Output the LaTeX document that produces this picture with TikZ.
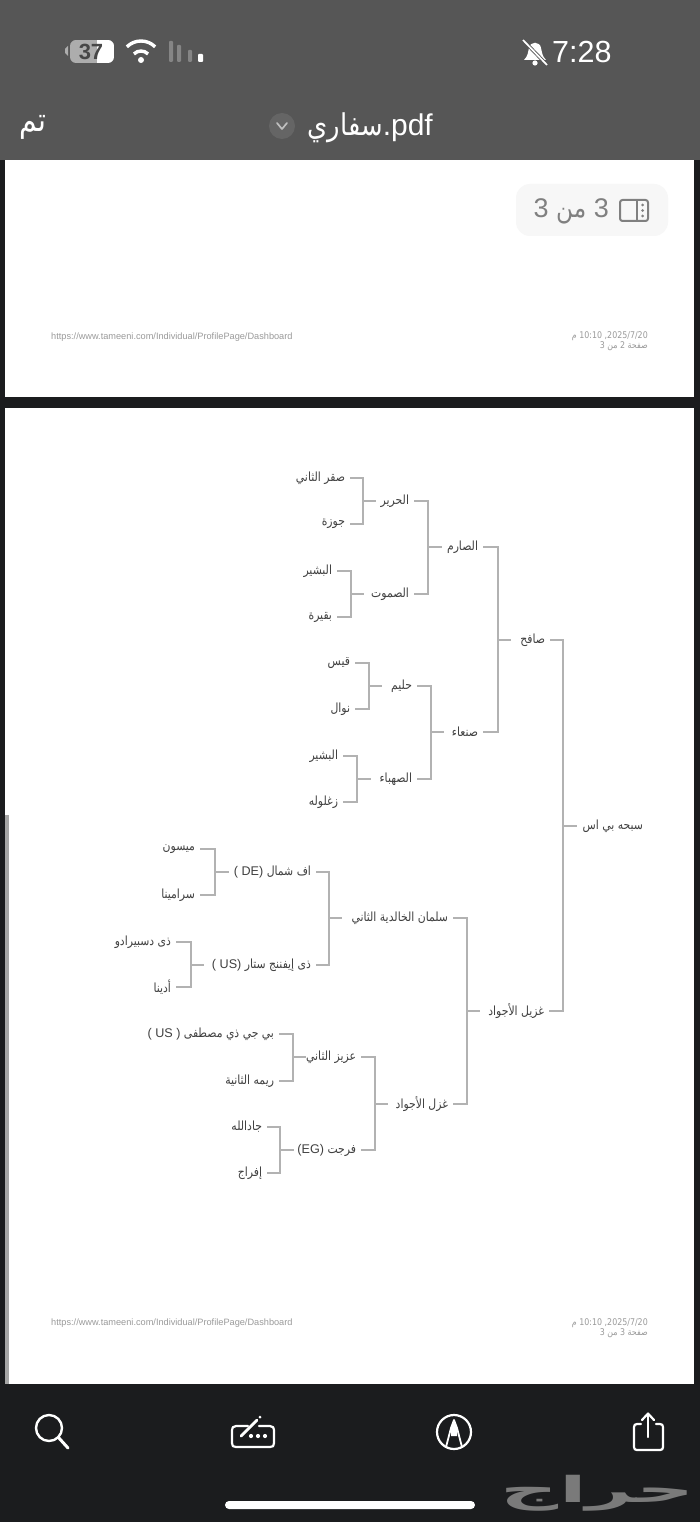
\documentclass[tikz,border=0pt]{standalone}
\usepackage{fontspec}
\usepackage{graphicx}
\setmainfont{Liberation Sans}
\newfontfamily\arabicfont[Script=Arabic,FakeStretch=0.86]{DejaVu Sans}
\TeXXeTstate=1
\definecolor{barcol}{HTML}{565656}
\definecolor{darkcol}{HTML}{1B1C1E}
\definecolor{linecol}{HTML}{B2B2B2}
\definecolor{txtcol}{HTML}{404040}
\definecolor{footcol}{HTML}{9A9A9A}
\newcommand{\ar}[1]{{\arabicfont\beginR #1\endR}}
\newcommand{\tn}[5]{\node[lbl,anchor=east] (#1) at (#2+5,#4) {\makebox[#3pt][r]{\raisebox{-1pt}{#5}}};}
\newcommand{\brk}[5]{%
  \coordinate (#1k) at (#2,#3);
  \draw[conn] (#4.east) -| (#1k) |- (#5.east);
  \draw[conn] (#1k) -- (#1.west);}
\tikzset{
  lbl/.style={inner ysep=0pt,inner xsep=5pt,outer sep=0pt,text=txtcol,font=\fontsize{12.6}{15}\selectfont},
  conn/.style={draw=linecol,line width=2pt},
  foot/.style={inner sep=0pt,text=footcol,font=\fontsize{9.2}{11}\selectfont},
  topt/.style={inner sep=0pt,text=white},
  ico/.style={draw=white,line width=2.2pt,line cap=round,line join=round},
}
\begin{document}
\begin{tikzpicture}[x=1pt,y=-1pt]
\useasboundingbox (0,0) rectangle (700,1522);
% chrome
\fill[darkcol] (0,0) rectangle (700,1522);
\fill[barcol] (0,0) rectangle (700,160);
\fill[white] (5,160) rectangle (694,397);
\fill[white] (5,408) rectangle (694,1384);
\fill[black!35] (5,815) rectangle (9,1384);
% status bar
\begin{scope}
\clip[rounded corners=6pt] (70,40) rectangle (114,63);
\fill[black!32] (70,40) rectangle (97,63);
\fill[white] (97,40) rectangle (114,63);
\end{scope}
\fill[black!32] (65,49) -- (68,46) -- (68,56) -- (65,53) -- cycle;
\node[inner sep=0pt,text=black!72,font=\fontsize{22}{24}\bfseries\selectfont] (batt) at (91,52) {37};
\fill[white] (141,60) circle (3);
\draw[white,line width=3.4pt] (141,61) ++(225:10) arc[start angle=225,end angle=315,radius=10];
\draw[white,line width=3.4pt] (141,61) ++(225:20) arc[start angle=225,end angle=315,radius=20];
\fill[black!48,rounded corners=1pt] (169,41) rectangle (173,62);
\fill[black!48,rounded corners=1pt] (177,45) rectangle (181,62);
\fill[black!48,rounded corners=1pt] (188,50) rectangle (192,62);
\fill[white,rounded corners=1pt] (198,54) rectangle (203,62);
\fill[white] (524,60) .. controls (528,56) and (528,52) .. (529,48) .. controls (530,41) and (540,41) .. (541,48) .. controls (542,52) and (542,56) .. (546,60) -- cycle;
\fill[white] (535,63) circle (2.6);
\draw[barcol,line width=3.4pt] (522,39) -- (548,66);
\draw[white,line width=1.7pt] (523,40) -- (547,65);
\node[topt,font=\fontsize{30.5}{33}\selectfont,anchor=west] (clock) at (552,52) {7:28};
% title bar
\node[topt,font=\fontsize{33}{36}\selectfont] (done) at (33,127) {\ar{تم}};
\fill[white,opacity=.09] (282,126) circle (13);
\draw[black!25,line width=1.7pt,line cap=round,line join=round] (277,123) -- (282,129) -- (287,123);
\node[topt,font=\fontsize{30}{33}\selectfont,anchor=east] (title) at (433,128) {\ar{سفاري}.pdf};
% page pill
\fill[black!3,rounded corners=14pt] (516,184) rectangle (668,236);
\node[inner sep=0pt,text=black!50,font=\fontsize{27}{30}\selectfont,anchor=east] (pg) at (609,211) {3 \ar{من} 3};
\draw[black!50,line width=2pt,rounded corners=2.5pt] (620,200) rectangle (648,221);
\draw[black!50,line width=2pt] (637,200) -- (637,221);
\fill[black!50] (642.5,205) circle (1.5) (642.5,210.5) circle (1.5) (642.5,216) circle (1.5);
% footers
\node[foot,anchor=west] (urla) at (51,337) {https://www.tameeni.com/Individual/ProfilePage/Dashboard};
\node[foot,anchor=east] (data) at (648,336) {\ar{\beginL 2025/7/20\endL, \beginL 10:10\endL{} م}};
\node[foot,anchor=east] (paga) at (648,346) {\ar{صفحة 2 من 3}};
\node[foot,anchor=west] (urlb) at (51,1323) {https://www.tameeni.com/Individual/ProfilePage/Dashboard};
\node[foot,anchor=east] (datb) at (648,1323) {\ar{\beginL 2025/7/20\endL, \beginL 10:10\endL{} م}};
\node[foot,anchor=east] (pagb) at (648,1333) {\ar{صفحة 3 من 3}};
% tree nodes
\tn{root}{643}{61}{826}{\ar{سبحه بي اس}}
\tn{saf}{545}{29}{640}{\ar{صافح}}
\tn{ghz}{544}{59}{1011}{\ar{غزيل الأجواد}}
\tn{sar}{478}{31}{547}{\ar{الصارم}}
\tn{san}{478}{29}{732}{\ar{صنعاء}}
\tn{sal}{448}{101}{918}{\ar{سلمان الخالدية الثاني}}
\tn{ghl}{448}{55}{1104}{\ar{غزل الأجواد}}
\tn{har}{409}{28}{501}{\ar{الحرير}}
\tn{sum}{409}{40}{594}{\ar{الصموت}}
\tn{hal}{412}{25}{686}{\ar{حليم}}
\tn{sah}{412}{36}{779}{\ar{الصهباء}}
\tn{afs}{311}{77}{872}{( DE) \ar{اف شمال}}
\tn{dhe}{311}{102}{965}{( US) \ar{ذى إيفننج ستار}}
\tn{azi}{356}{45}{1057}{\ar{عزيز الثاني}}
\tn{far}{356}{57}{1150}{(EG) \ar{فرجت}}
\tn{saq}{345}{48}{478}{\ar{صقر الثاني}}
\tn{jaw}{345}{23}{524}{\ar{جوزة}}
\tn{bsa}{332}{29}{571}{\ar{البشير}}
\tn{baq}{332}{23}{617}{\ar{بقيرة}}
\tn{qay}{350}{25}{663}{\ar{قيس}}
\tn{naw}{350}{21}{709}{\ar{نوال}}
\tn{bsb}{338}{29}{756}{\ar{البشير}}
\tn{zag}{338}{29}{802}{\ar{زغلوله}}
\tn{may}{195}{34}{849}{\ar{ميسون}}
\tn{sar2}{195}{32}{895}{\ar{سرامينا}}
\tn{dhs}{171}{60}{942}{\ar{ذى دسبيرادو}}
\tn{adi}{171}{19}{987}{\ar{أدينا}}
\tn{bij}{274}{127}{1034}{( US ) \ar{بي جي ذي مصطفى}}
\tn{rim}{274}{52}{1081}{\ar{ريمه الثانية}}
\tn{jad}{262}{35}{1127}{\ar{جادالله}}
\tn{ifr}{262}{25}{1173}{\ar{إفراج}}
% connectors
\brk{root}{563}{826}{saf}{ghz}
\brk{saf}{498}{640}{sar}{san}
\brk{ghz}{467}{1011}{sal}{ghl}
\brk{sar}{428}{547}{har}{sum}
\brk{san}{431}{732}{hal}{sah}
\brk{sal}{329}{918}{afs}{dhe}
\brk{ghl}{375}{1104}{azi}{far}
\brk{har}{363}{501}{saq}{jaw}
\brk{sum}{351}{594}{bsa}{baq}
\brk{hal}{369}{686}{qay}{naw}
\brk{sah}{357}{779}{bsb}{zag}
\brk{afs}{215}{872}{may}{sar2}
\brk{dhe}{191}{965}{dhs}{adi}
\brk{azi}{293}{1057}{bij}{rim}
\brk{far}{280}{1150}{jad}{ifr}
% bottom toolbar
\draw[ico,line width=2.4pt] (49,1428) circle (13);
\draw[ico,line width=3pt] (58.5,1437.5) -- (68,1448);
\draw[ico] (248,1426) -- (236,1426) .. controls (233,1426) and (232,1428) .. (232,1430) -- (232,1443) .. controls (232,1446) and (233,1447) .. (236,1447) -- (270,1447) .. controls (273,1447) and (274,1446) .. (274,1443) -- (274,1430) .. controls (274,1428) and (273,1426) .. (270,1426) -- (259,1426);
\draw[ico,line width=2.8pt] (241,1436) -- (257,1420);
\fill[white] (260,1417) circle (1.5);
\fill[white] (251,1436) circle (2.1) (258,1436) circle (2.1) (265,1436) circle (2.1);
\draw[ico] (454,1432) circle (17);
\draw[ico,line width=1.8pt] (446,1447) -- (451,1428) -- (454,1420) -- (457,1428) -- (462,1447);
\fill[white] (451,1428) -- (454,1420) -- (457,1428) -- (457,1436) -- (451,1436) -- cycle;
\draw[ico] (641,1424) -- (637,1424) .. controls (635,1424) and (634,1425) .. (634,1427) -- (634,1447) .. controls (634,1449) and (635,1450) .. (637,1450) -- (660,1450) .. controls (662,1450) and (663,1449) .. (663,1447) -- (663,1427) .. controls (663,1425) and (662,1424) .. (660,1424) -- (656,1424);
\draw[ico] (648,1437) -- (648,1414);
\draw[ico] (642,1420) -- (648,1413.5) -- (654,1420);
\fill[white,rounded corners=4pt] (225,1501) rectangle (475,1509);
% watermark
\node[inner sep=0pt,anchor=center,text=black!52] (mark) at (598,1493) {\resizebox*{194pt}{36pt}{\arabicfont\bfseries\beginR حراج\endR}};
\end{tikzpicture}
\end{document}
